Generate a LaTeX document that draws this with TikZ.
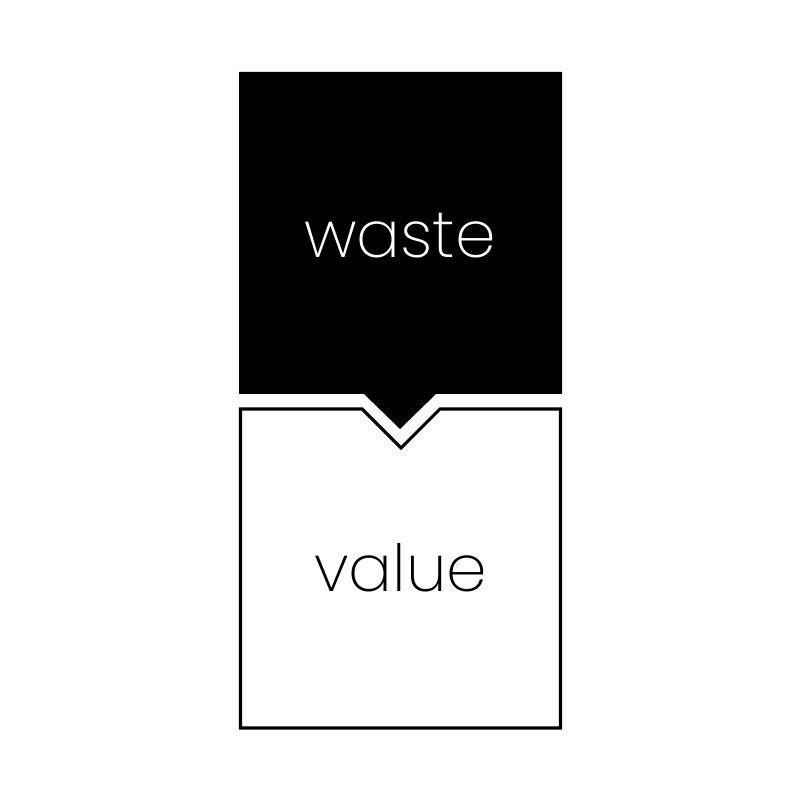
\documentclass[tikz,border=0pt]{standalone}
\usepackage{fontspec}
\setmainfont{Poppins ExtraLight}
\usepackage{tikz}
\usetikzlibrary{positioning}
\begin{document}
\begin{tikzpicture}[
  word/.style={font=\fontsize{18.5}{22}\selectfont, anchor=base},
  tile/.style={line width=0.9pt, line join=miter},
]
  \useasboundingbox (0,0) rectangle (8,8);
  % ---- top tile, black with the point ---------------------------------------
  \fill[black] (2.39,7.28) -- (5.62,7.28) -- (5.62,4.06) -- (4.36,4.06)
    -- (4.00,3.71) -- (3.64,4.06) -- (2.39,4.06) -- cycle;
  \node[word, text=white] (waste) at (4.00,5.42) {waste};
  % ---- bottom tile, outlined with the notch ---------------------------------
  \draw[tile] (2.405,3.91) -- (3.62,3.91) -- (4.01,3.52) -- (4.40,3.91)
    -- (5.605,3.91) -- (5.605,0.72) -- (2.405,0.72) -- cycle;
  \node[word] (value) at (4.01,2.08) {value};
\end{tikzpicture}
\end{document}
